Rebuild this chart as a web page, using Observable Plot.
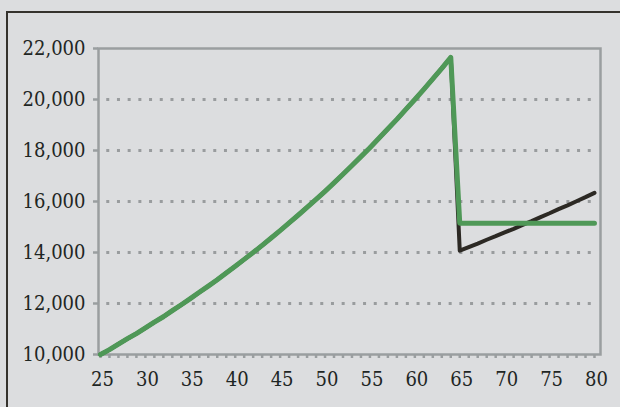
<!DOCTYPE html>
<html>
<head>
<meta charset="utf-8">
<script src="https://cdn.jsdelivr.net/npm/d3@7"></script>
<script src="https://cdn.jsdelivr.net/npm/@observablehq/plot@0.6"></script>
<style>
  html, body { margin: 0; padding: 0; background: #dcdddf; }
  #wrap { position: relative; width: 620px; height: 407px; overflow: hidden; background: #dcdddf; }
  #border { position: absolute; left: 6px; top: 11px; right: -10px; bottom: -10px;
            border-top: 2px solid #35322d; border-left: 2px solid #35322d; }
  #chart { position: absolute; left: 0; top: 0; }
  #chart svg text { font-stretch: condensed; }
</style>
</head>
<body>
<div id="wrap"><div id="border"></div><div id="chart"></div></div>
<script>
const ages = d3.range(25, 81);
const blackSeries = [
  10000,10190,10410,10620,10820,11040,11270,11480,11720,11950,
  12190,12440,12680,12930,13200,13460,13730,14000,14280,14570,
  14860,15160,15460,15770,16080,16400,16730,17070,17410,17760,
  18110,18480,18850,19220,19610,20000,20400,20810,21220,21650,
  14070,14210,14350,14500,14640,14790,14930,15080,15230,15390,
  15540,15700,15850,16010,16170,16340
];
const greenSeries = [
  10000,10190,10410,10620,10820,11040,11270,11480,11720,11950,
  12190,12440,12680,12930,13200,13460,13730,14000,14280,14570,
  14860,15160,15460,15770,16080,16400,16730,17070,17410,17760,
  18110,18480,18850,19220,19610,20000,20400,20810,21220,21650,
  15150,15150,15150,15150,15150,15150,15150,15150,15150,15150,
  15150,15150,15150,15150,15150,15150
];
const yTicks = [10000, 12000, 14000, 16000, 18000, 20000, 22000];
const gridTicks = [12000, 14000, 16000, 18000, 20000];
const xLabels = [25, 30, 35, 40, 45, 50, 55, 60, 65, 70, 75, 80];

const blackData = ages.map((a, i) => ({age: a, value: blackSeries[i]}));
const greenData = ages.map((a, i) => ({age: a, value: greenSeries[i]}));

const axisGray = "#9a9ea0";
const textColor = "#1f2624";
const fmt = d3.format(",");
const fontStack = "'DejaVu Serif Condensed', 'DejaVu Serif', serif";

const chart = Plot.plot({
  width: 620,
  height: 407,
  marginLeft: 98,
  marginRight: 20,
  marginTop: 48,
  marginBottom: 53,
  style: {background: "transparent", fontFamily: fontStack, fontSize: "20px", color: textColor},
  x: {domain: [24.78, 80.67], axis: null},
  y: {domain: [10000, 22000], axis: null},
  marks: [
    Plot.ruleY(gridTicks, {x1: ages[0] + 0.7, x2: ages[ages.length - 1], stroke: "#999c9e", strokeWidth: 3, strokeDasharray: "3,7.7"}),
    Plot.frame({stroke: axisGray, strokeWidth: 2.5}),
    Plot.axisY({ticks: yTicks, tickFormat: fmt, tickSize: 5, tickPadding: 8, stroke: axisGray, strokeWidth: 2.5, fill: textColor, fontSize: 20, label: null}),
    Plot.axisX({ticks: ages, tickSize: 4, tickFormat: () => "", stroke: axisGray, strokeWidth: 2.5, label: null}),
    Plot.axisX({ticks: xLabels, tickSize: 0, tickPadding: 17, dx: 2, fill: textColor, fontSize: 20, label: null}),
    Plot.line(blackData, {x: "age", y: "value", stroke: "#2c2924", strokeWidth: 4}),
    Plot.line(greenData, {x: "age", y: "value", stroke: "#4f9857", strokeWidth: 5})
  ]
});
document.getElementById("chart").appendChild(chart);
</script>
</body>
</html>
